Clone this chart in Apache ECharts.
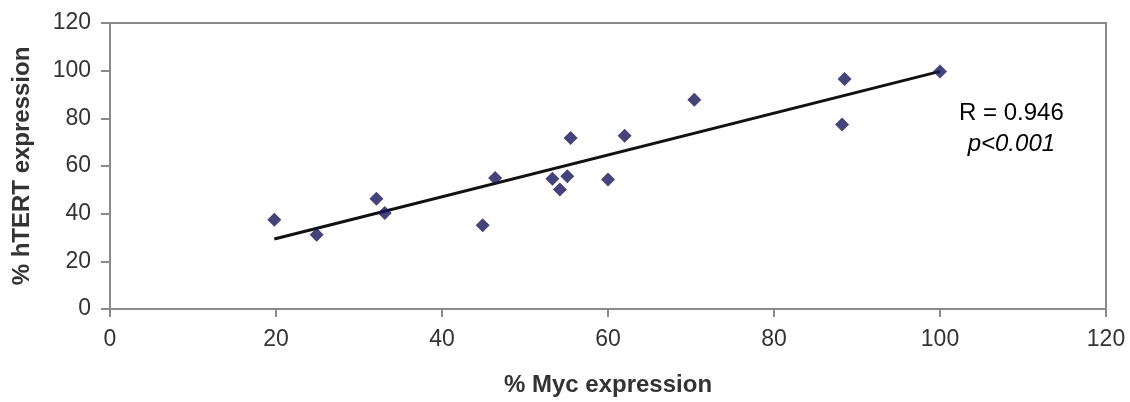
<!DOCTYPE html>
<html>
<head>
<meta charset="utf-8">
<script src="https://cdn.jsdelivr.net/npm/echarts@6/dist/echarts.min.js"></script>
<style>
  html, body { margin: 0; padding: 0; background: #fff; }
  #chart { width: 1130px; height: 402px; }
</style>
</head>
<body>
<div id="chart"></div>
<script>
// values
var mycExpr = [19.8, 24.9, 32.1, 33.1, 44.9, 46.4, 53.3, 54.2, 55.1, 55.5, 60.0, 62.0, 70.4, 88.2, 88.5, 100];
var htertExpr = [37.5, 31.2, 46.3, 40.3, 35.1, 55.0, 54.6, 50.1, 55.7, 71.8, 54.3, 72.7, 87.8, 77.4, 96.5, 99.7];
// fitted line, ends as drawn
var fitX = [19.8, 100];
var fitY = [29.4, 99.7];
var statR = 'R = 0.946';
var statP = 'p<0.001';

var chart = echarts.init(document.getElementById('chart'));

let pts = mycExpr.map(function (x, i) { return [x, htertExpr[i]]; });
let fit = fitX.map(function (x, i) { return [x, fitY[i]]; });

let axisCol = '#8a8a8a';
let txtCol = '#333';
let fnt = '"Liberation Sans", Arial, sans-serif';

chart.setOption({
    animation: false,
    backgroundColor: '#fff',
    grid: {
        left: 110, right: 24, top: 23, bottom: 92,
        show: true, borderColor: axisCol, borderWidth: 2
    },
    xAxis: {
        type: 'value', min: 0, max: 120, interval: 20,
        name: '% Myc expression', nameLocation: 'middle', nameGap: 64,
        nameTextStyle: { fontFamily: fnt, fontSize: 24, fontWeight: 'bold', color: txtCol },
        axisLine: { show: true, lineStyle: { color: axisCol, width: 2 } },
        axisTick: { show: true, length: 8, lineStyle: { color: axisCol, width: 2 } },
        axisLabel: { margin: 19, fontFamily: fnt, fontSize: 23, color: txtCol },
        splitLine: { show: false }
    },
    yAxis: {
        type: 'value', min: 0, max: 120, interval: 20,
        name: '% hTERT expression', nameLocation: 'middle', nameGap: 76,
        nameTextStyle: { fontFamily: fnt, fontSize: 24, fontWeight: 'bold', color: txtCol },
        axisLine: { show: true, lineStyle: { color: axisCol, width: 2 } },
        axisTick: { show: true, length: 9, lineStyle: { color: axisCol, width: 2 } },
        axisLabel: { margin: 19, fontFamily: fnt, fontSize: 23, color: txtCol },
        splitLine: { show: false }
    },
    graphic: [{
        type: 'text', left: 959, top: 101,
        style: {
            text: '{a|' + statR + '}\n{b|' + statP + '}',
            align: 'center',
            rich: {
                a: { fontFamily: fnt, fontSize: 24, color: txtCol, lineHeight: 31, align: 'center' },
                b: { fontFamily: fnt, fontSize: 24, fontStyle: 'italic', color: txtCol, lineHeight: 31, align: 'center' }
            }
        }
    }],
    series: [
        {
            type: 'line', data: fit, symbol: 'none', silent: true,
            lineStyle: { color: '#111', width: 3 }, z: 2
        },
        {
            type: 'scatter', data: pts, symbol: 'diamond', symbolSize: 14,
            itemStyle: { color: '#151559' }, z: 3
        }
    ]
});
</script>
</body>
</html>
